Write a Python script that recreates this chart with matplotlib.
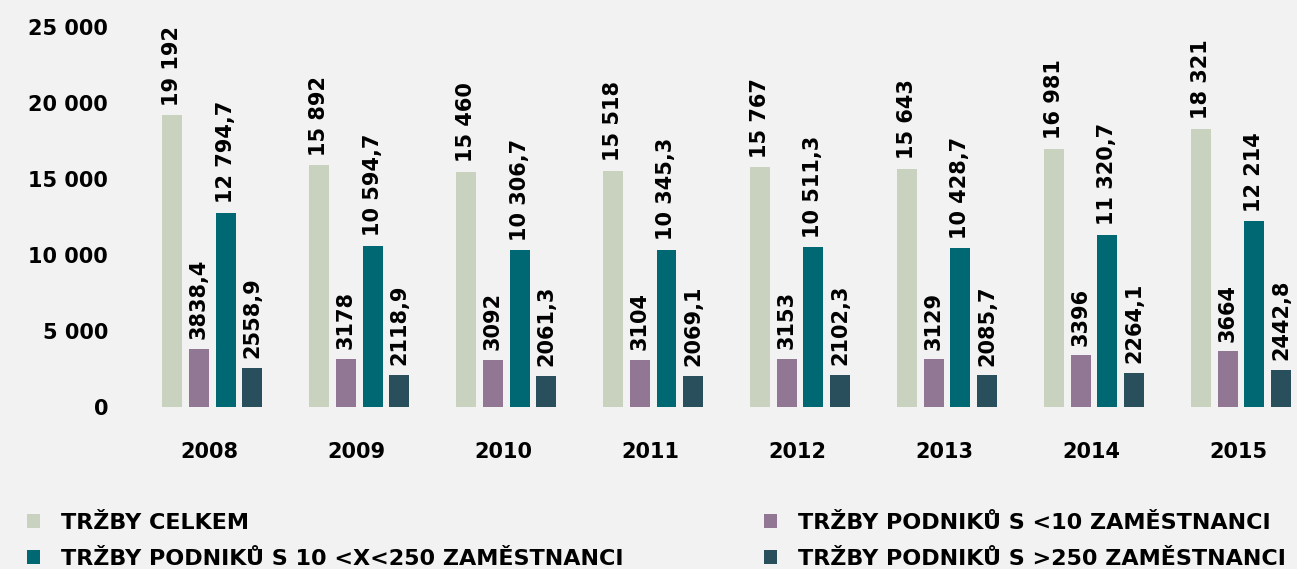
import matplotlib.pyplot as plt
import numpy as np

years = ['2008', '2009', '2010', '2011', '2012', '2013', '2014', '2015']
celkem = [19192, 15892, 15460, 15518, 15767, 15643, 16981, 18321]
mikro = [3838.4, 3178, 3092, 3104, 3153, 3129, 3396, 3664]
stredni = [12794.7, 10594.7, 10306.7, 10345.3, 10511.3, 10428.7, 11320.7, 12214]
velke = [2558.9, 2118.9, 2061.3, 2069.1, 2102.3, 2085.7, 2264.1, 2442.8]
labels = ['TRŽBY CELKEM', 'TRŽBY PODNIKŮ S <10 ZAMĚSTNANCI',
          'TRŽBY PODNIKŮ S 10 <X<250 ZAMĚSTNANCI', 'TRŽBY PODNIKŮ S >250 ZAMĚSTNANCI']
colors = ['#c9d2bf', '#917793', '#006872', '#2a4f5c']
yticks = [0, 5000, 10000, 15000, 20000, 25000]

plt.rcParams['font.family'] = ['DejaVu Sans']
bg = '#f2f2f2'
fs = 15


def fmt(v):
    ip = int(v)
    s = f'{ip:,}'.replace(',', ' ') if ip >= 10000 else str(ip)
    if not float(v).is_integer():
        s += ',' + str(round(v - ip, 1))[2:]
    return s


fig = plt.figure(figsize=(12.97, 5.69), dpi=100, facecolor=bg)
ax = fig.add_axes([0.107, 0.2847, 0.893, 0.6946], facecolor=bg)

x = np.arange(len(years))
step = 0.1816
width = 0.136
series = [celkem, mikro, stredni, velke]
handles = []
for k, vals in enumerate(series):
    pos = x + (k - 1.5) * step
    b = ax.bar(pos, vals, width, color=colors[k], label=labels[k])
    handles.append(b)
    for p, v in zip(pos, vals):
        ax.annotate(fmt(v), (p, v), xytext=(0, 7), textcoords='offset points',
                    rotation=90, ha='center', va='bottom', fontsize=fs, fontweight='bold')

ax.set_xlim(-0.5, -0.5 + (1297 - 138.5) / 147)
ax.set_ylim(0, 26000)
ax.set_yticks(yticks)
ax.set_yticklabels([f'{t:,}'.replace(',', ' ') for t in yticks], fontsize=fs, fontweight='bold')
ax.set_xticks(x - 0.02)
ax.set_xticklabels(years, fontsize=fs, fontweight='bold')
ax.tick_params(axis='both', length=0)
ax.tick_params(axis='x', pad=25)
ax.tick_params(axis='y', pad=22)
for s in ax.spines.values():
    s.set_visible(False)

leg_kw = dict(frameon=False, handlelength=0.6, handleheight=0.6,
              handletextpad=0.95, labelspacing=0.72, loc='upper left',
              borderpad=0, borderaxespad=0, prop={'weight': 'bold', 'size': 16})
fig.legend([handles[0], handles[2]], [labels[0], labels[2]],
           bbox_to_anchor=(0.0208, 0.098), **leg_kw)
fig.legend([handles[1], handles[3]], [labels[1], labels[3]],
           bbox_to_anchor=(0.589, 0.098), **leg_kw)

fig.savefig('out.png', dpi=100, facecolor=bg)
